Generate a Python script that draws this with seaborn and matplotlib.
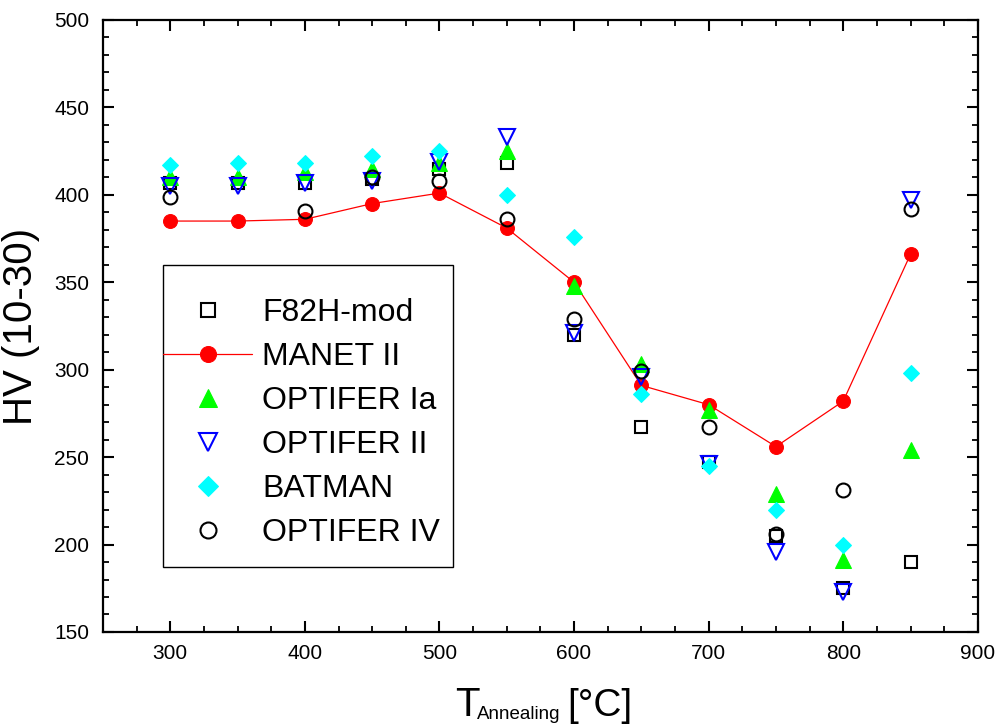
import numpy as np
import pandas as pd
import matplotlib
matplotlib.use("Agg")
import matplotlib.pyplot as plt
from matplotlib.patches import Rectangle
from matplotlib.ticker import MultipleLocator
import seaborn as sns

sns.set_theme(style="white")
plt.rcParams['font.family'] = ['Liberation Sans', 'DejaVu Sans']
plt.rcParams['text.color'] = 'black'
plt.rcParams['axes.labelcolor'] = 'black'
plt.rcParams['xtick.color'] = 'black'
plt.rcParams['ytick.color'] = 'black'

temps = [300, 350, 400, 450, 500, 550, 600, 650, 700, 750, 800, 850]
f82h_mod = [407, 407, 407, 409, 415, 418, 320, 267, 247, 205, 175, 190]
manet_ii = [385, 385, 386, 395, 401, 381, 350, 291, 280, 256, 282, 366]
optifer_ia = [410, 410, 413, 415, 418, 425, 348, 303, 277, 229, 191, 254]
optifer_ii = [405, 405, 407, 408, 419, 433, 321, 296, 246, 196, 173, 397]
batman = [417, 418, 418, 422, 425, 400, 376, 286, 245, 220, 200, 298]
optifer_iv = [399, np.nan, 391, 410, 408, 386, 329, 299, 267, 206, 231, 392]

series = [
    ("F82H-mod", f82h_mod, dict(marker='s', mfc='none', mec='black', mew=1.5, ms=9, linestyle='')),
    ("MANET II", manet_ii, dict(marker='o', mfc='#ff0000', mec='#ff0000', ms=10, color='#ff0000', lw=0.9)),
    ("OPTIFER Ia", optifer_ia, dict(marker='^', mfc='#00ff00', mec='#00ff00', ms=11, linestyle='')),
    ("OPTIFER II", optifer_ii, dict(marker='v', mfc='none', mec='#0000ff', mew=1.5, ms=11, linestyle='')),
    ("BATMAN", batman, dict(marker='D', mfc='#00ffff', mec='#00ffff', ms=8.5, linestyle='')),
    ("OPTIFER IV", optifer_iv, dict(marker='o', mfc='none', mec='black', mew=1.5, ms=10, linestyle='')),
]

fig = plt.figure(figsize=(10.07, 7.26), dpi=100)
ax = fig.add_axes([0.1023, 0.1295, 0.8687, 0.843])

for name, vals, style in series:
    df = pd.DataFrame({"T": temps, "HV": vals}).dropna()
    sns.lineplot(data=df, x="T", y="HV", ax=ax, label=name, sort=True, **style)

ax.set_xlim(250, 900)
ax.set_ylim(150, 500)
ax.xaxis.set_major_locator(MultipleLocator(100))
ax.xaxis.set_minor_locator(MultipleLocator(25))
ax.yaxis.set_major_locator(MultipleLocator(50))
ax.yaxis.set_minor_locator(MultipleLocator(10))
ax.tick_params(which='both', direction='in', top=True, right=True, bottom=True, left=True,
               colors='black', labelsize=15)
ax.tick_params(which='major', length=8, width=1.5)
ax.tick_params(which='minor', length=4.5, width=1.3)
ax.tick_params(axis='y', which='major', pad=10)
ax.tick_params(axis='x', which='major', pad=9)
for s in ax.spines.values():
    s.set_color('black')
    s.set_linewidth(1.6)

ax.set_ylabel("HV (10-30)", fontsize=29, labelpad=10)
ax.set_xlabel("")

# x-axis label: T with subscript "Annealing" and unit
fig.text(455 / 1007, 1 - 716 / 726, "T", fontsize=29, va='baseline', ha='left')
fig.text(477 / 1007, 1 - 719 / 726, "Annealing", fontsize=13.5, va='baseline', ha='left')
fig.text(567 / 1007, 1 - 716 / 726, "[°C]", fontsize=28, va='baseline', ha='left')

leg = ax.legend(loc='upper left', bbox_to_anchor=(0.0686, 0.546), frameon=False,
                fontsize=23, handlelength=2.8, handletextpad=0.3, labelspacing=0.44,
                borderpad=0, borderaxespad=0, markerscale=1.15)
for t in leg.get_texts():
    t.set_color('black')
ax.add_patch(Rectangle((0.0686, 0.106), 0.331, 0.494, transform=ax.transAxes,
                       fill=False, edgecolor='black', lw=1.0, zorder=5))

fig.savefig("out.png", dpi=100)
